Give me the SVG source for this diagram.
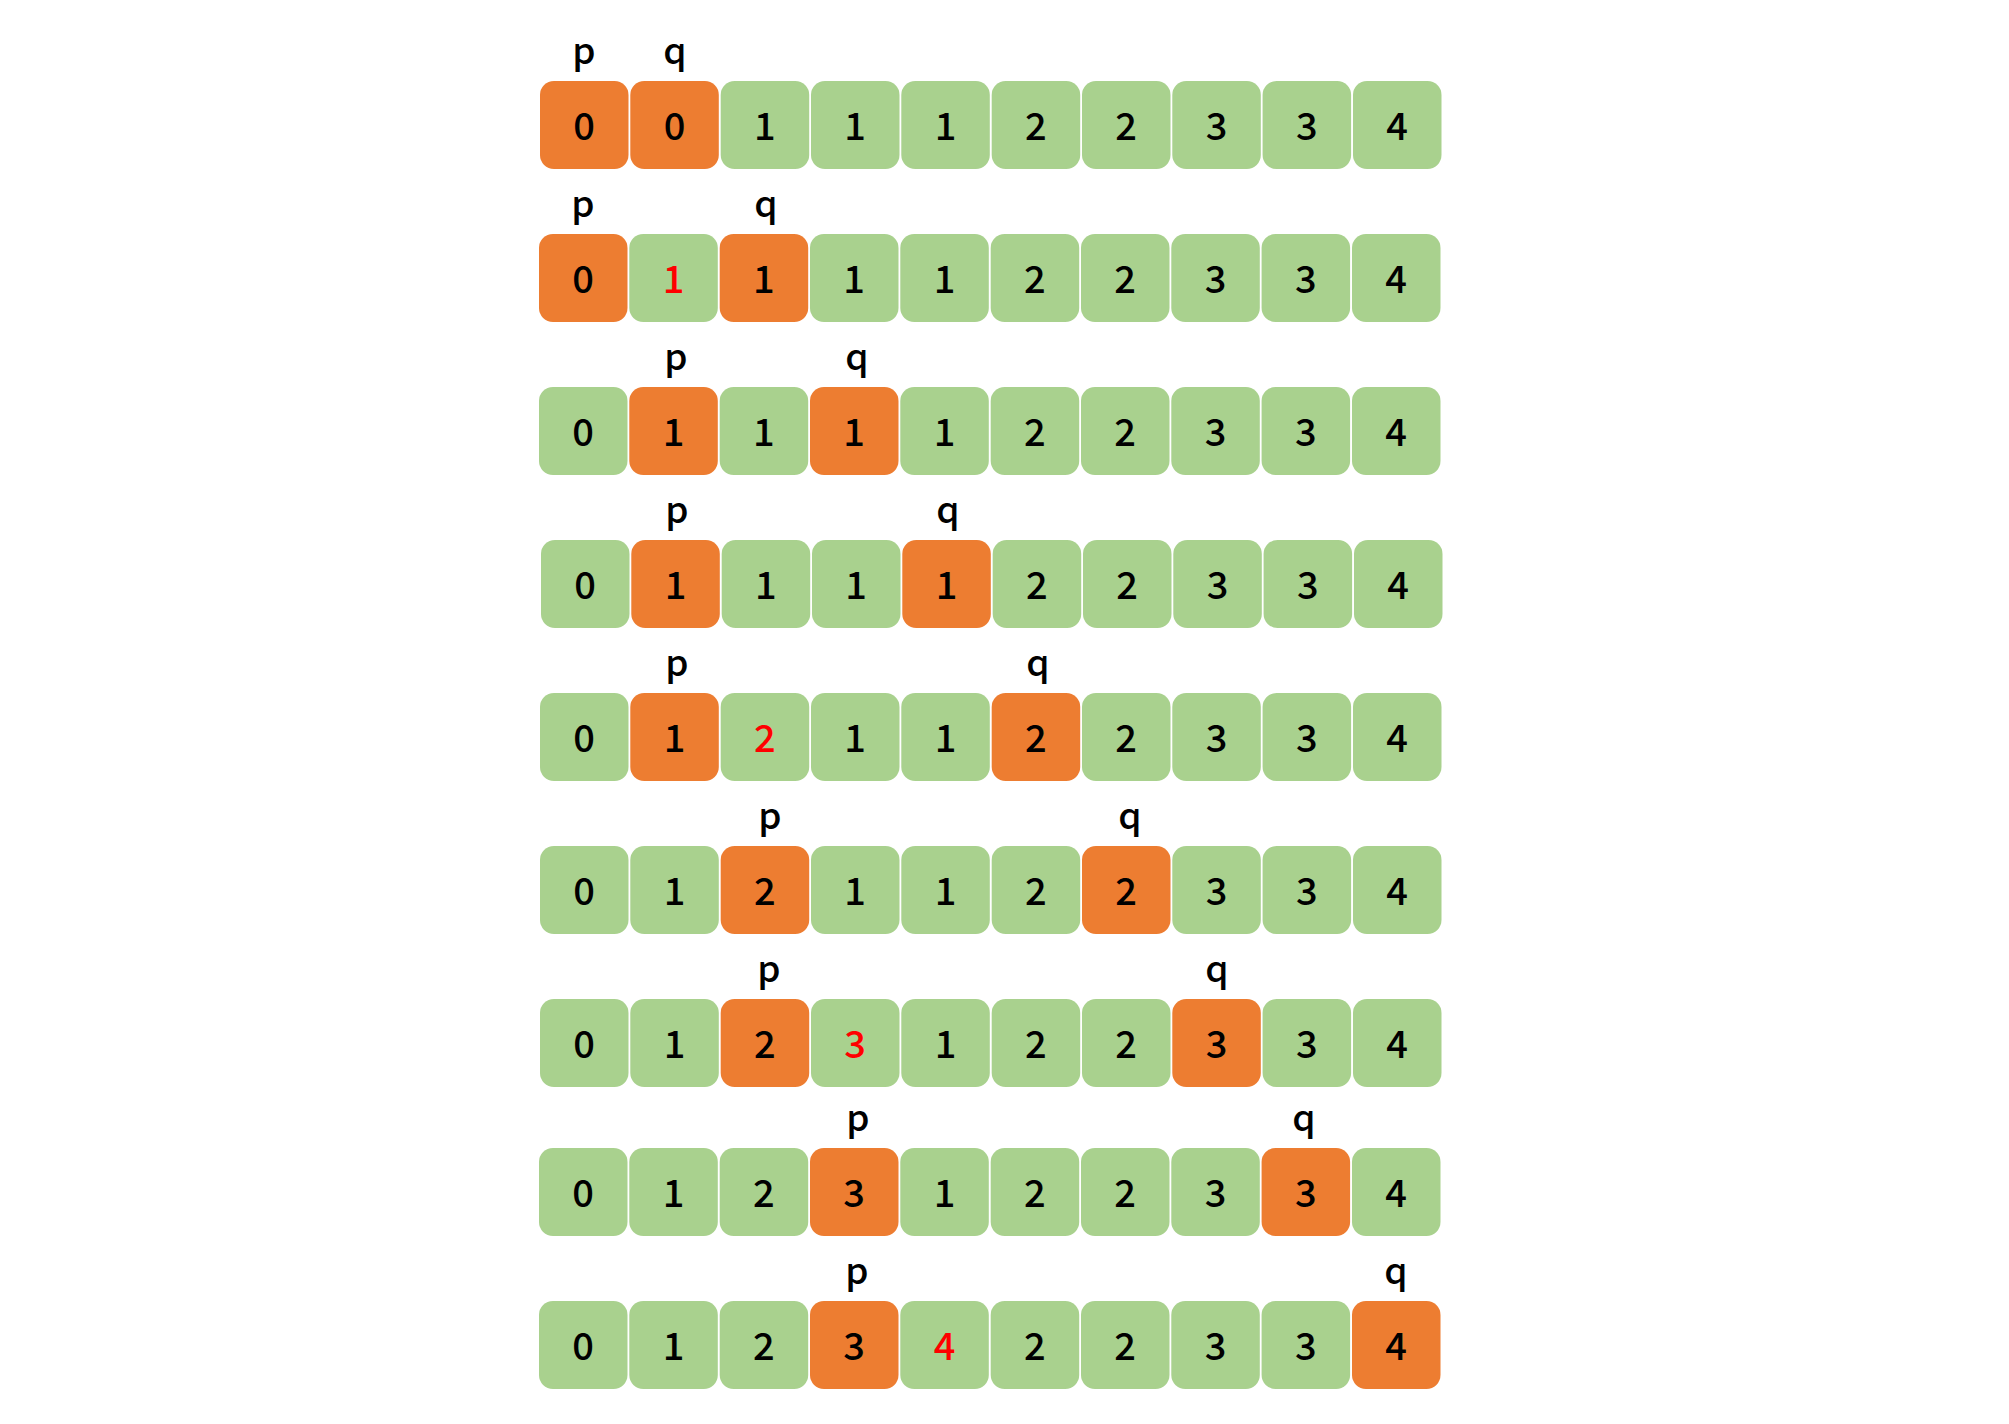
<svg xmlns="http://www.w3.org/2000/svg" width="2009" height="1424" viewBox="0 0 2009 1424">
<style>
.g{fill:#A9D18E}
.o{fill:#ED7D31}
.d{font-family:"Noto Sans CJK SC","DejaVu Sans",sans-serif;font-size:38px;font-weight:500;fill:#000;text-anchor:middle}
.r{fill:#FF0000}
.l{font-family:"Noto Sans CJK SC","DejaVu Sans",sans-serif;font-size:37px;font-weight:500;fill:#000;text-anchor:middle}
</style>
<rect width="2009" height="1424" fill="#fff"/>
<g id="connectors"></g>
<g id="row1" transform="translate(0,81)">
<rect class="o" x="540" y="0" width="88.5" height="88" rx="14"/><text class="d" x="584.2" y="58.5">0</text>
<rect class="o" x="630.3" y="0" width="88.5" height="88" rx="14"/><text class="d" x="674.6" y="58.5">0</text>
<rect class="g" x="720.7" y="0" width="88.5" height="88" rx="14"/><text class="d" x="764.9" y="58.5">1</text>
<rect class="g" x="811" y="0" width="88.5" height="88" rx="14"/><text class="d" x="855.2" y="58.5">1</text>
<rect class="g" x="901.3" y="0" width="88.5" height="88" rx="14"/><text class="d" x="945.6" y="58.5">1</text>
<rect class="g" x="991.7" y="0" width="88.5" height="88" rx="14"/><text class="d" x="1035.9" y="58.5">2</text>
<rect class="g" x="1082" y="0" width="88.5" height="88" rx="14"/><text class="d" x="1126.2" y="58.5">2</text>
<rect class="g" x="1172.3" y="0" width="88.5" height="88" rx="14"/><text class="d" x="1216.6" y="58.5">3</text>
<rect class="g" x="1262.6" y="0" width="88.5" height="88" rx="14"/><text class="d" x="1306.9" y="58.5">3</text>
<rect class="g" x="1353" y="0" width="88.5" height="88" rx="14"/><text class="d" x="1397.2" y="58.5">4</text>
<text class="l" x="584" y="-17">p</text><text class="l" x="675" y="-17">q</text>
</g>
<g id="row2" transform="translate(-1,234)">
<rect class="o" x="540" y="0" width="88.5" height="88" rx="14"/><text class="d" x="584.2" y="58.5">0</text>
<rect class="g" x="630.3" y="0" width="88.5" height="88" rx="14"/><text class="d r" x="674.6" y="58.5">1</text>
<rect class="o" x="720.7" y="0" width="88.5" height="88" rx="14"/><text class="d" x="764.9" y="58.5">1</text>
<rect class="g" x="811" y="0" width="88.5" height="88" rx="14"/><text class="d" x="855.2" y="58.5">1</text>
<rect class="g" x="901.3" y="0" width="88.5" height="88" rx="14"/><text class="d" x="945.6" y="58.5">1</text>
<rect class="g" x="991.7" y="0" width="88.5" height="88" rx="14"/><text class="d" x="1035.9" y="58.5">2</text>
<rect class="g" x="1082" y="0" width="88.5" height="88" rx="14"/><text class="d" x="1126.2" y="58.5">2</text>
<rect class="g" x="1172.3" y="0" width="88.5" height="88" rx="14"/><text class="d" x="1216.6" y="58.5">3</text>
<rect class="g" x="1262.6" y="0" width="88.5" height="88" rx="14"/><text class="d" x="1306.9" y="58.5">3</text>
<rect class="g" x="1353" y="0" width="88.5" height="88" rx="14"/><text class="d" x="1397.2" y="58.5">4</text>
<text class="l" x="584" y="-17">p</text><text class="l" x="767" y="-17">q</text>
</g>
<g id="row3" transform="translate(-1,387)">
<rect class="g" x="540" y="0" width="88.5" height="88" rx="14"/><text class="d" x="584.2" y="58.5">0</text>
<rect class="o" x="630.3" y="0" width="88.5" height="88" rx="14"/><text class="d" x="674.6" y="58.5">1</text>
<rect class="g" x="720.7" y="0" width="88.5" height="88" rx="14"/><text class="d" x="764.9" y="58.5">1</text>
<rect class="o" x="811" y="0" width="88.5" height="88" rx="14"/><text class="d" x="855.2" y="58.5">1</text>
<rect class="g" x="901.3" y="0" width="88.5" height="88" rx="14"/><text class="d" x="945.6" y="58.5">1</text>
<rect class="g" x="991.7" y="0" width="88.5" height="88" rx="14"/><text class="d" x="1035.9" y="58.5">2</text>
<rect class="g" x="1082" y="0" width="88.5" height="88" rx="14"/><text class="d" x="1126.2" y="58.5">2</text>
<rect class="g" x="1172.3" y="0" width="88.5" height="88" rx="14"/><text class="d" x="1216.6" y="58.5">3</text>
<rect class="g" x="1262.6" y="0" width="88.5" height="88" rx="14"/><text class="d" x="1306.9" y="58.5">3</text>
<rect class="g" x="1353" y="0" width="88.5" height="88" rx="14"/><text class="d" x="1397.2" y="58.5">4</text>
<text class="l" x="677" y="-17">p</text><text class="l" x="858" y="-17">q</text>
</g>
<g id="row4" transform="translate(1,540)">
<rect class="g" x="540" y="0" width="88.5" height="88" rx="14"/><text class="d" x="584.2" y="58.5">0</text>
<rect class="o" x="630.3" y="0" width="88.5" height="88" rx="14"/><text class="d" x="674.6" y="58.5">1</text>
<rect class="g" x="720.7" y="0" width="88.5" height="88" rx="14"/><text class="d" x="764.9" y="58.5">1</text>
<rect class="g" x="811" y="0" width="88.5" height="88" rx="14"/><text class="d" x="855.2" y="58.5">1</text>
<rect class="o" x="901.3" y="0" width="88.5" height="88" rx="14"/><text class="d" x="945.6" y="58.5">1</text>
<rect class="g" x="991.7" y="0" width="88.5" height="88" rx="14"/><text class="d" x="1035.9" y="58.5">2</text>
<rect class="g" x="1082" y="0" width="88.5" height="88" rx="14"/><text class="d" x="1126.2" y="58.5">2</text>
<rect class="g" x="1172.3" y="0" width="88.5" height="88" rx="14"/><text class="d" x="1216.6" y="58.5">3</text>
<rect class="g" x="1262.6" y="0" width="88.5" height="88" rx="14"/><text class="d" x="1306.9" y="58.5">3</text>
<rect class="g" x="1353" y="0" width="88.5" height="88" rx="14"/><text class="d" x="1397.2" y="58.5">4</text>
<text class="l" x="676" y="-17">p</text><text class="l" x="947" y="-17">q</text>
</g>
<g id="row5" transform="translate(0,693)">
<rect class="g" x="540" y="0" width="88.5" height="88" rx="14"/><text class="d" x="584.2" y="58.5">0</text>
<rect class="o" x="630.3" y="0" width="88.5" height="88" rx="14"/><text class="d" x="674.6" y="58.5">1</text>
<rect class="g" x="720.7" y="0" width="88.5" height="88" rx="14"/><text class="d r" x="764.9" y="58.5">2</text>
<rect class="g" x="811" y="0" width="88.5" height="88" rx="14"/><text class="d" x="855.2" y="58.5">1</text>
<rect class="g" x="901.3" y="0" width="88.5" height="88" rx="14"/><text class="d" x="945.6" y="58.5">1</text>
<rect class="o" x="991.7" y="0" width="88.5" height="88" rx="14"/><text class="d" x="1035.9" y="58.5">2</text>
<rect class="g" x="1082" y="0" width="88.5" height="88" rx="14"/><text class="d" x="1126.2" y="58.5">2</text>
<rect class="g" x="1172.3" y="0" width="88.5" height="88" rx="14"/><text class="d" x="1216.6" y="58.5">3</text>
<rect class="g" x="1262.6" y="0" width="88.5" height="88" rx="14"/><text class="d" x="1306.9" y="58.5">3</text>
<rect class="g" x="1353" y="0" width="88.5" height="88" rx="14"/><text class="d" x="1397.2" y="58.5">4</text>
<text class="l" x="677" y="-17">p</text><text class="l" x="1038" y="-17">q</text>
</g>
<g id="row6" transform="translate(0,846)">
<rect class="g" x="540" y="0" width="88.5" height="88" rx="14"/><text class="d" x="584.2" y="58.5">0</text>
<rect class="g" x="630.3" y="0" width="88.5" height="88" rx="14"/><text class="d" x="674.6" y="58.5">1</text>
<rect class="o" x="720.7" y="0" width="88.5" height="88" rx="14"/><text class="d" x="764.9" y="58.5">2</text>
<rect class="g" x="811" y="0" width="88.5" height="88" rx="14"/><text class="d" x="855.2" y="58.5">1</text>
<rect class="g" x="901.3" y="0" width="88.5" height="88" rx="14"/><text class="d" x="945.6" y="58.5">1</text>
<rect class="g" x="991.7" y="0" width="88.5" height="88" rx="14"/><text class="d" x="1035.9" y="58.5">2</text>
<rect class="o" x="1082" y="0" width="88.5" height="88" rx="14"/><text class="d" x="1126.2" y="58.5">2</text>
<rect class="g" x="1172.3" y="0" width="88.5" height="88" rx="14"/><text class="d" x="1216.6" y="58.5">3</text>
<rect class="g" x="1262.6" y="0" width="88.5" height="88" rx="14"/><text class="d" x="1306.9" y="58.5">3</text>
<rect class="g" x="1353" y="0" width="88.5" height="88" rx="14"/><text class="d" x="1397.2" y="58.5">4</text>
<text class="l" x="770" y="-17">p</text><text class="l" x="1130" y="-17">q</text>
</g>
<g id="row7" transform="translate(0,999)">
<rect class="g" x="540" y="0" width="88.5" height="88" rx="14"/><text class="d" x="584.2" y="58.5">0</text>
<rect class="g" x="630.3" y="0" width="88.5" height="88" rx="14"/><text class="d" x="674.6" y="58.5">1</text>
<rect class="o" x="720.7" y="0" width="88.5" height="88" rx="14"/><text class="d" x="764.9" y="58.5">2</text>
<rect class="g" x="811" y="0" width="88.5" height="88" rx="14"/><text class="d r" x="855.2" y="58.5">3</text>
<rect class="g" x="901.3" y="0" width="88.5" height="88" rx="14"/><text class="d" x="945.6" y="58.5">1</text>
<rect class="g" x="991.7" y="0" width="88.5" height="88" rx="14"/><text class="d" x="1035.9" y="58.5">2</text>
<rect class="g" x="1082" y="0" width="88.5" height="88" rx="14"/><text class="d" x="1126.2" y="58.5">2</text>
<rect class="o" x="1172.3" y="0" width="88.5" height="88" rx="14"/><text class="d" x="1216.6" y="58.5">3</text>
<rect class="g" x="1262.6" y="0" width="88.5" height="88" rx="14"/><text class="d" x="1306.9" y="58.5">3</text>
<rect class="g" x="1353" y="0" width="88.5" height="88" rx="14"/><text class="d" x="1397.2" y="58.5">4</text>
<text class="l" x="769" y="-17">p</text><text class="l" x="1217" y="-17">q</text>
</g>
<g id="row8" transform="translate(-1,1148)">
<rect class="g" x="540" y="0" width="88.5" height="88" rx="14"/><text class="d" x="584.2" y="58.5">0</text>
<rect class="g" x="630.3" y="0" width="88.5" height="88" rx="14"/><text class="d" x="674.6" y="58.5">1</text>
<rect class="g" x="720.7" y="0" width="88.5" height="88" rx="14"/><text class="d" x="764.9" y="58.5">2</text>
<rect class="o" x="811" y="0" width="88.5" height="88" rx="14"/><text class="d" x="855.2" y="58.5">3</text>
<rect class="g" x="901.3" y="0" width="88.5" height="88" rx="14"/><text class="d" x="945.6" y="58.5">1</text>
<rect class="g" x="991.7" y="0" width="88.5" height="88" rx="14"/><text class="d" x="1035.9" y="58.5">2</text>
<rect class="g" x="1082" y="0" width="88.5" height="88" rx="14"/><text class="d" x="1126.2" y="58.5">2</text>
<rect class="g" x="1172.3" y="0" width="88.5" height="88" rx="14"/><text class="d" x="1216.6" y="58.5">3</text>
<rect class="o" x="1262.6" y="0" width="88.5" height="88" rx="14"/><text class="d" x="1306.9" y="58.5">3</text>
<rect class="g" x="1353" y="0" width="88.5" height="88" rx="14"/><text class="d" x="1397.2" y="58.5">4</text>
<text class="l" x="859" y="-17">p</text><text class="l" x="1305" y="-17">q</text>
</g>
<g id="row9" transform="translate(-1,1301)">
<rect class="g" x="540" y="0" width="88.5" height="88" rx="14"/><text class="d" x="584.2" y="58.5">0</text>
<rect class="g" x="630.3" y="0" width="88.5" height="88" rx="14"/><text class="d" x="674.6" y="58.5">1</text>
<rect class="g" x="720.7" y="0" width="88.5" height="88" rx="14"/><text class="d" x="764.9" y="58.5">2</text>
<rect class="o" x="811" y="0" width="88.5" height="88" rx="14"/><text class="d" x="855.2" y="58.5">3</text>
<rect class="g" x="901.3" y="0" width="88.5" height="88" rx="14"/><text class="d r" x="945.6" y="58.5">4</text>
<rect class="g" x="991.7" y="0" width="88.5" height="88" rx="14"/><text class="d" x="1035.9" y="58.5">2</text>
<rect class="g" x="1082" y="0" width="88.5" height="88" rx="14"/><text class="d" x="1126.2" y="58.5">2</text>
<rect class="g" x="1172.3" y="0" width="88.5" height="88" rx="14"/><text class="d" x="1216.6" y="58.5">3</text>
<rect class="g" x="1262.6" y="0" width="88.5" height="88" rx="14"/><text class="d" x="1306.9" y="58.5">3</text>
<rect class="o" x="1353" y="0" width="88.5" height="88" rx="14"/><text class="d" x="1397.2" y="58.5">4</text>
<text class="l" x="858" y="-17">p</text><text class="l" x="1397" y="-17">q</text>
</g>
</svg>
